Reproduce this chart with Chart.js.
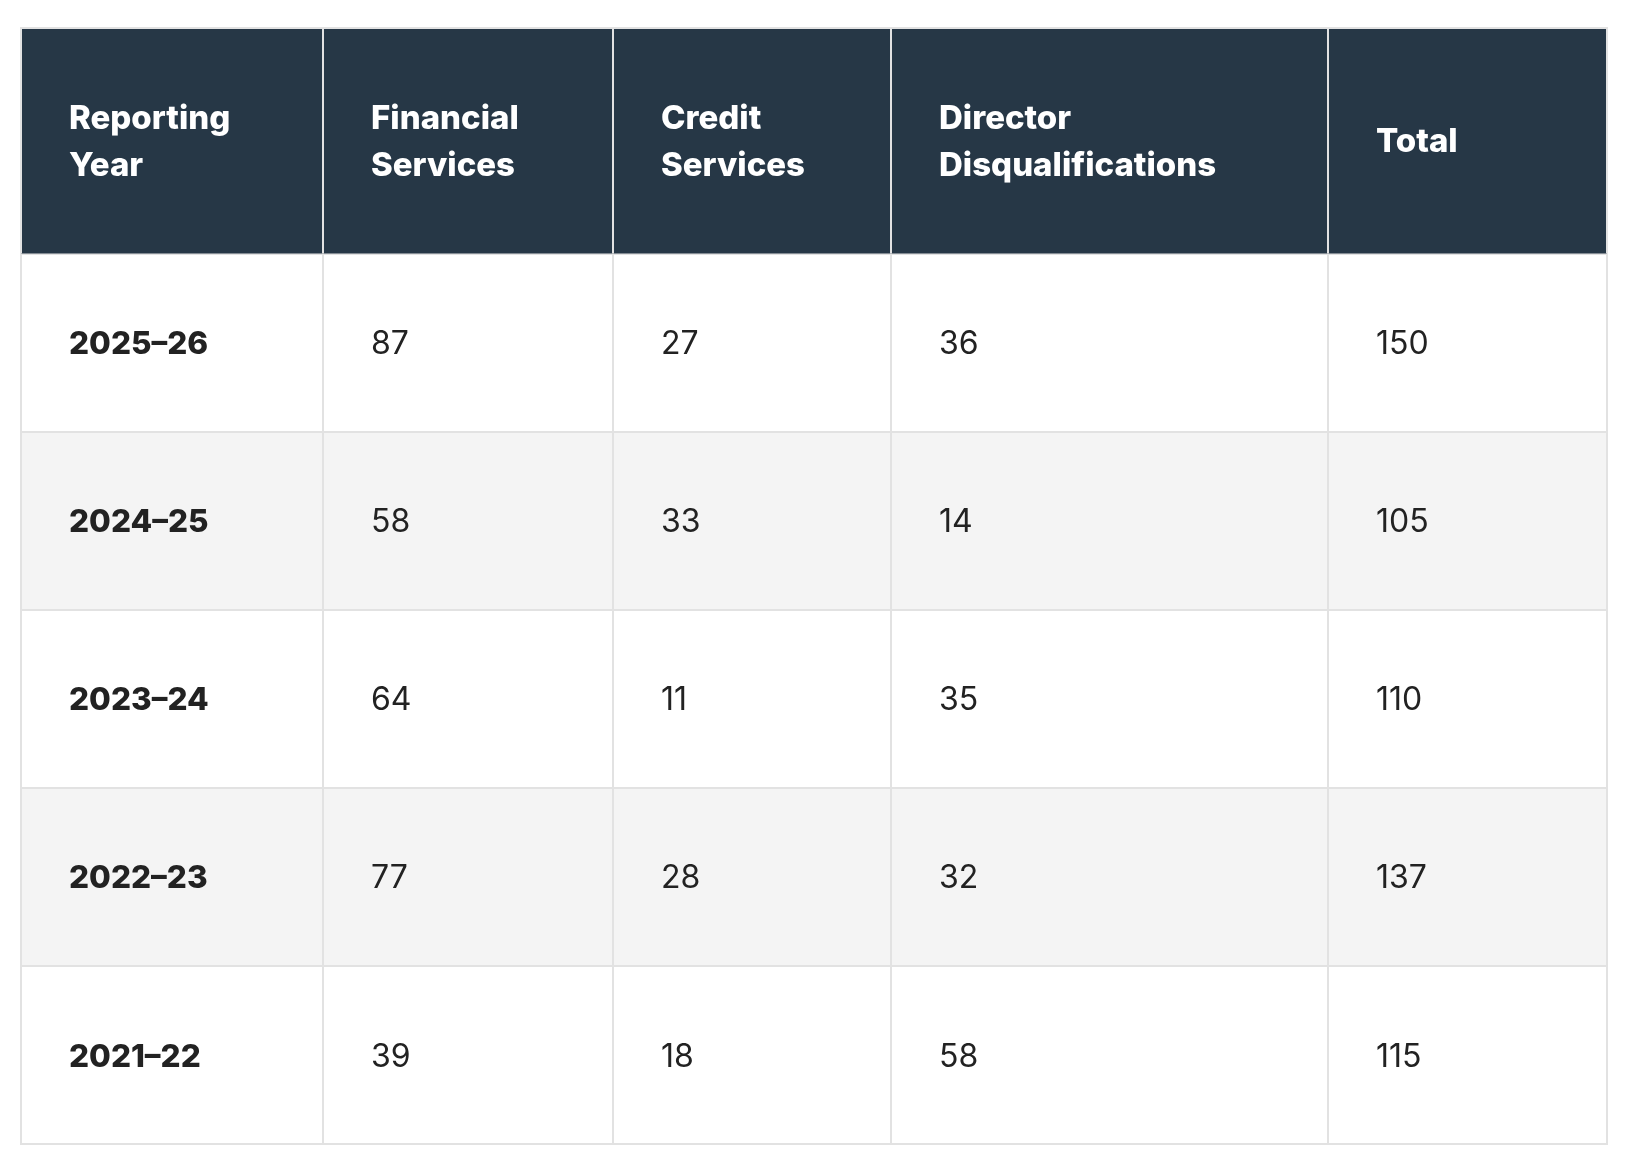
<!DOCTYPE html>
<html>
<head>
<meta charset="utf-8">
<title>Reporting year table</title>
<script src="https://cdn.jsdelivr.net/npm/chart.js@4.4.1/dist/chart.umd.min.js"></script>
<style>
  html, body { margin: 0; padding: 0; background: #ffffff; }
  canvas { display: block; }
</style>
</head>
<body>
<canvas id="tableChart" width="1638" height="1167"></canvas>
<script>
// table data
const headers = [
  ['Reporting', 'Year'],
  ['Financial', 'Services'],
  ['Credit', 'Services'],
  ['Director', 'Disqualifications'],
  ['Total']
];
const years = ['2025–26', '2024–25', '2023–24', '2022–23', '2021–22'];
const financialServices = [87, 58, 64, 77, 39];
const creditServices = [27, 33, 11, 28, 18];
const directorDisqualifications = [36, 14, 35, 32, 58];
const totals = [150, 105, 110, 137, 115];

// layout (table units = px)
const tableWidth = 1586;
const colEdges = [0, 302, 592, 870, 1307, 1586];
const headerHeight = 226.5;
const cellPadX = 48;

const headerBg = '#263746';
const lineColor = '#e2e2e2';
const textColor = '#222222';
const stripe = '#f4f4f4';

const columns = [years, financialServices, creditServices, directorDisqualifications, totals];

const tablePlugin = {
  id: 'tableCells',
  afterDraw(chart) {
    const ctx = chart.ctx;
    const x = chart.scales.x;
    const y = chart.scales.y;
    const area = chart.chartArea;
    const top = area.top - headerHeight;
    const left = x.getPixelForValue(0);
    const right = x.getPixelForValue(tableWidth);

    ctx.save();
    // header band
    ctx.fillStyle = headerBg;
    ctx.fillRect(left, top, right - left, headerHeight);

    ctx.strokeStyle = lineColor;
    ctx.lineWidth = 2;
    ctx.beginPath();
    ctx.moveTo(left - 1, top + 1);
    ctx.lineTo(right + 1, top + 1);
    colEdges.forEach(function (e) {
      const px = Math.round(x.getPixelForValue(e));
      ctx.moveTo(px, top);
      ctx.lineTo(px, area.top);
    });
    ctx.stroke();

    // header labels
    ctx.fillStyle = '#ffffff';
    ctx.font = '800 33px Inter';
    ctx.textBaseline = 'alphabetic';
    const hMid = top + headerHeight / 2;
    const hLine = 46.7;
    headers.forEach(function (lines, i) {
      const tx = x.getPixelForValue(colEdges[i]) + cellPadX;
      lines.forEach(function (txt, j) {
        const cy = hMid + (j - (lines.length - 1) / 2) * hLine;
        ctx.fillText(txt, tx, cy + 0.727 * 33 / 2);
      });
    });

    // body cells
    ctx.fillStyle = textColor;
    years.forEach(function (yr, r) {
      const cy = y.getPixelForValue(r);
      columns.forEach(function (col, c) {
        ctx.font = c === 0 ? '800 31.5px Inter' : '400 32px Inter';
        const tx = x.getPixelForValue(colEdges[c]) + cellPadX;
        ctx.fillText(String(col[r]), tx, cy + 0.727 * 32 / 2);
      });
    });
    ctx.restore();
  }
};

new Chart(document.getElementById('tableChart'), {
  type: 'bar',
  data: {
    labels: years,
    datasets: [{
      label: 'rows',
      data: years.map(function () { return [0, tableWidth]; }),
      backgroundColor: function (c) { return c.dataIndex % 2 === 0 ? '#ffffff' : stripe; },
      borderWidth: 0,
      borderSkipped: false,
      barPercentage: 1,
      categoryPercentage: 1
    }]
  },
  options: {
    indexAxis: 'y',
    responsive: false,
    devicePixelRatio: 1,
    animation: false,
    events: [],
    layout: { padding: { left: 21, right: 31, top: 253.5, bottom: 23 } },
    plugins: { legend: { display: false }, tooltip: { enabled: false } },
    scales: {
      x: {
        type: 'linear',
        min: 0,
        max: tableWidth,
        afterBuildTicks: function (axis) {
          axis.ticks = colEdges.map(function (v) { return { value: v }; });
        },
        ticks: { display: false },
        grid: { z: 1, color: lineColor, lineWidth: 2, drawTicks: false, tickLength: 0 },
        border: { z: 1, display: true, color: lineColor, width: 2 }
      },
      y: {
        type: 'category',
        offset: true,
        ticks: { display: false },
        grid: { z: 1, offset: true, color: lineColor, lineWidth: 2, drawTicks: false, tickLength: 0 },
        border: { z: 1, display: true, color: lineColor, width: 2 }
      }
    }
  },
  plugins: [tablePlugin]
});
</script>
</body>
</html>
